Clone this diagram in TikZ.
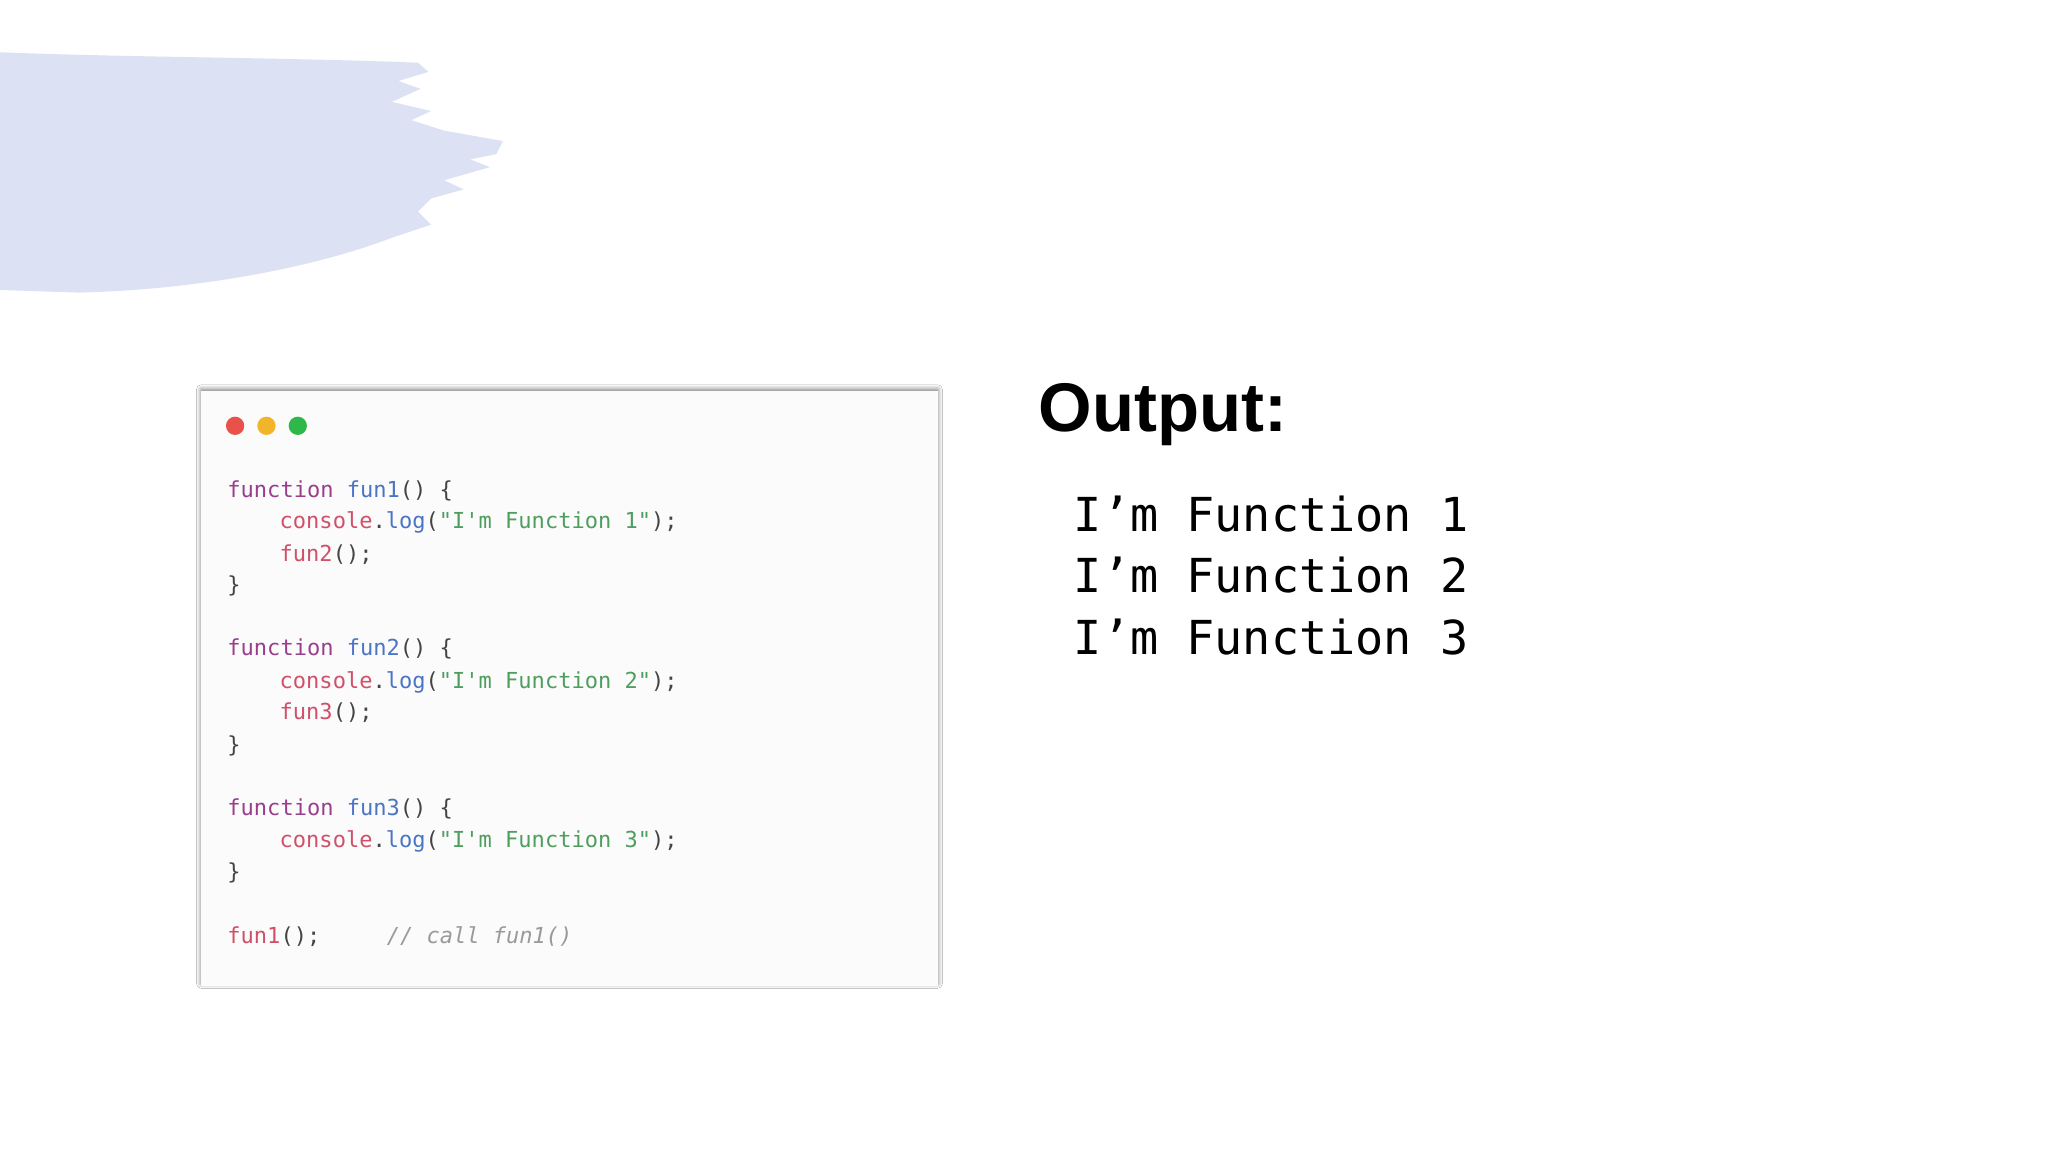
\documentclass[tikz,border=0pt]{standalone}
\usepackage{fontspec}
\setmainfont{Liberation Sans}
\newfontfamily\codefont{DejaVu Sans Mono}
\usetikzlibrary{shadows.blur}
\definecolor{brush}{HTML}{DCE2F4}
\definecolor{kw}{HTML}{9A3E8C}
\definecolor{fn}{HTML}{4A74C4}
\definecolor{obj}{HTML}{D0506A}
\definecolor{str}{HTML}{4E9E5E}
\definecolor{pun}{HTML}{444444}
\definecolor{cmt}{HTML}{9A9A9A}
\definecolor{dred}{HTML}{E8524A}
\definecolor{dyel}{HTML}{F2B52A}
\definecolor{dgrn}{HTML}{2EB84A}
\tikzset{code/.style={anchor=base west,inner sep=0pt,font=\codefont\fontsize{24}{28}\selectfont,text=pun},
 outl/.style={anchor=base west,inner sep=0pt,font=\codefont\fontsize{51}{56}\selectfont,text=black}}
\begin{document}
\begin{tikzpicture}[x=0.5mm,y=-0.5mm]
\useasboundingbox[fill=white] (0,0) rectangle (1568,882);
\fill[brush] (0,40) .. controls (100,44) and (220,44) .. (320,48) -- (328,55) -- (305,62) -- (322,68) -- (300,78) -- (330,85) -- (315,92) -- (340,100) -- (385,108) -- (380,118) -- (360,122) -- (375,128) -- (340,138) -- (355,145) -- (330,152) -- (320,162) -- (330,172) -- (300,182) .. controls (240,205) and (150,222) .. (60,224) -- (0,222) -- cycle;
\node[draw=none,fill=white,minimum width=564*0.5mm,minimum height=455*0.5mm,inner sep=0pt,blur shadow={shadow blur steps=8,shadow xshift=0pt,shadow yshift=2pt,shadow blur radius=5pt,shadow opacity=55}] (win) at (436,527) {};
\fill[white!98.5!black] (win.north west) rectangle (win.south east);
\fill[dred] (180,326) circle (7) node (r) {};
\fill[dyel] (204,326) circle (7) node (y) {};
\fill[dgrn] (228,326) circle (7) node (g) {};
\node[code] (l1) at (174,381) {\textcolor{kw}{function} \textcolor{fn}{fun1}() \{};
\node[code] (l2) at (214,405) {\textcolor{obj}{console}.\textcolor{fn}{log}(\textcolor{str}{"I'm Function 1"});};
\node[code] (l3) at (214,430) {\textcolor{obj}{fun2}();};
\node[code] (l4) at (174,454) {\}};
\node[code] (l5) at (174,502) {\textcolor{kw}{function} \textcolor{fn}{fun2}() \{};
\node[code] (l6) at (214,527) {\textcolor{obj}{console}.\textcolor{fn}{log}(\textcolor{str}{"I'm Function 2"});};
\node[code] (l7) at (214,551) {\textcolor{obj}{fun3}();};
\node[code] (l8) at (174,576) {\}};
\node[code] (l9) at (174,624) {\textcolor{kw}{function} \textcolor{fn}{fun3}() \{};
\node[code] (l10) at (214,649) {\textcolor{obj}{console}.\textcolor{fn}{log}(\textcolor{str}{"I'm Function 3"});};
\node[code] (l11) at (174,673) {\}};
\node[code] (l12) at (174,722) {\textcolor{obj}{fun1}();};
\node[code,text=cmt] (l13) at (296,722) {\itshape // call fun1()};
\node[anchor=base west,inner sep=0pt,font=\bfseries\fontsize{75}{80}\selectfont] (out) at (795,330) {Output:};
\node[outl] (o1) at (822,407) {I’m Function 1};
\node[outl] (o2) at (822,454) {I’m Function 2};
\node[outl] (o3) at (822,501) {I’m Function 3};
\end{tikzpicture}
\end{document}
